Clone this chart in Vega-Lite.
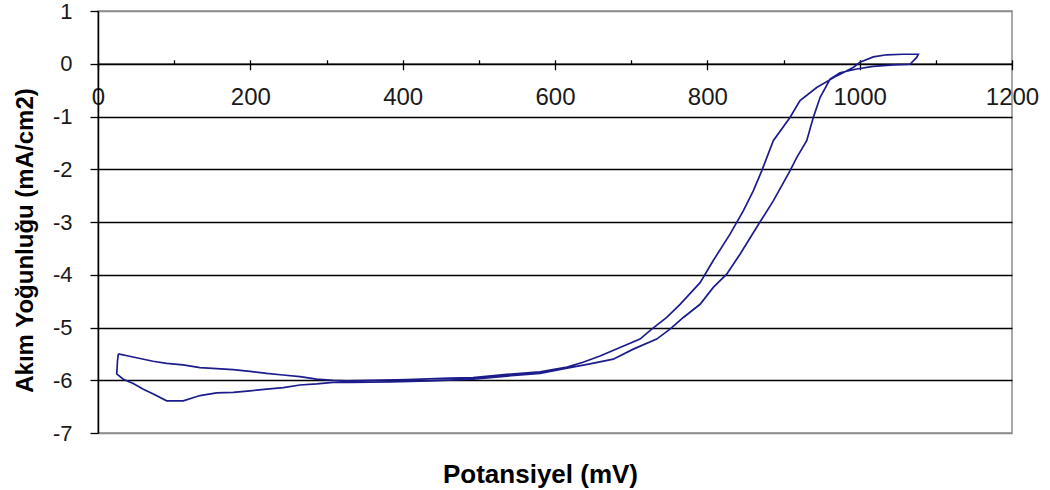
{
 "$schema": "https://vega.github.io/schema/vega-lite/v6.json",
 "width": 914, "height": 422,
 "autosize": "none",
 "padding": {"left": 98, "top": 11, "right": 38, "bottom": 57},
 "background": "white",
 "config": {"view": {"stroke": "#8c8c8c", "strokeWidth": 1.5}, "font": "Liberation Sans"},
 "data": {"values": [
  {"i":1,"mV":26.7,"j":-5.50},{"i":2,"mV":39.8,"j":-5.54},{"i":3,"mV":72.2,"j":-5.64},{"i":4,"mV":90.2,"j":-5.68},
  {"i":5,"mV":111.6,"j":-5.71},{"i":6,"mV":133.9,"j":-5.76},{"i":7,"mV":155.8,"j":-5.78},{"i":8,"mV":177.2,"j":-5.80},
  {"i":9,"mV":199.6,"j":-5.83},{"i":10,"mV":221.5,"j":-5.87},{"i":11,"mV":242.9,"j":-5.90},{"i":12,"mV":265.2,"j":-5.93},
  {"i":13,"mV":287.1,"j":-5.98},{"i":14,"mV":308.5,"j":-6.00},{"i":15,"mV":326.5,"j":-6.01},{"i":16,"mV":361.1,"j":-6.00},
  {"i":17,"mV":405.7,"j":-5.99},{"i":18,"mV":462.1,"j":-5.96},{"i":19,"mV":492.3,"j":-5.95},{"i":20,"mV":537.0,"j":-5.89},
  {"i":21,"mV":580.3,"j":-5.84},{"i":22,"mV":615.8,"j":-5.75},{"i":23,"mV":636.8,"j":-5.66},{"i":24,"mV":659.1,"j":-5.54},
  {"i":25,"mV":685.4,"j":-5.38},{"i":26,"mV":711.6,"j":-5.22},{"i":27,"mV":727.0,"j":-5.03},{"i":28,"mV":746.7,"j":-4.81},
  {"i":29,"mV":764.2,"j":-4.56},{"i":30,"mV":790.5,"j":-4.15},{"i":31,"mV":807.8,"j":-3.73},{"i":32,"mV":829.8,"j":-3.23},
  {"i":33,"mV":847.2,"j":-2.79},{"i":34,"mV":860.3,"j":-2.41},{"i":35,"mV":871.4,"j":-2.03},{"i":36,"mV":886.6,"j":-1.46},
  {"i":37,"mV":908.5,"j":-1.02},{"i":38,"mV":921.7,"j":-0.70},{"i":39,"mV":943.6,"j":-0.45},{"i":40,"mV":969.8,"j":-0.23},
  {"i":41,"mV":991.6,"j":-0.07},{"i":42,"mV":1000.4,"j":0.03},{"i":43,"mV":1017.9,"j":0.13},{"i":44,"mV":1035.5,"j":0.17},
  {"i":45,"mV":1057.3,"j":0.18},{"i":46,"mV":1077.0,"j":0.18},{"i":47,"mV":1074.9,"j":0.12},{"i":48,"mV":1066.1,"j":-0.01},
  {"i":49,"mV":1044.2,"j":-0.02},{"i":50,"mV":1017.9,"j":-0.05},{"i":51,"mV":996.1,"j":-0.10},{"i":52,"mV":974.2,"j":-0.17},
  {"i":53,"mV":961.1,"j":-0.29},{"i":54,"mV":948.0,"j":-0.64},{"i":55,"mV":939.1,"j":-1.02},{"i":56,"mV":930.5,"j":-1.46},
  {"i":57,"mV":917.3,"j":-1.78},{"i":58,"mV":908.5,"j":-2.03},{"i":59,"mV":886.6,"j":-2.60},{"i":60,"mV":864.8,"j":-3.10},
  {"i":61,"mV":842.9,"j":-3.61},{"i":62,"mV":825.4,"j":-3.99},{"i":63,"mV":807.8,"j":-4.24},{"i":64,"mV":790.5,"j":-4.56},
  {"i":65,"mV":768.5,"j":-4.81},{"i":66,"mV":751.0,"j":-5.03},{"i":67,"mV":733.5,"j":-5.22},{"i":68,"mV":702.8,"j":-5.41},
  {"i":69,"mV":676.5,"j":-5.60},{"i":70,"mV":645.9,"j":-5.69},{"i":71,"mV":615.8,"j":-5.77},{"i":72,"mV":580.3,"j":-5.87},
  {"i":73,"mV":537.0,"j":-5.92},{"i":74,"mV":492.3,"j":-5.98},{"i":75,"mV":435.9,"j":-6.01},{"i":76,"mV":383.4,"j":-6.03},
  {"i":77,"mV":330.9,"j":-6.04},{"i":78,"mV":308.9,"j":-6.04},{"i":79,"mV":287.1,"j":-6.07},{"i":80,"mV":265.2,"j":-6.09},
  {"i":81,"mV":243.3,"j":-6.14},{"i":82,"mV":221.5,"j":-6.17},{"i":83,"mV":199.6,"j":-6.20},{"i":84,"mV":177.6,"j":-6.23},
  {"i":85,"mV":155.8,"j":-6.24},{"i":86,"mV":133.9,"j":-6.29},{"i":87,"mV":112.0,"j":-6.39},{"i":88,"mV":90.2,"j":-6.39},
  {"i":89,"mV":72.6,"j":-6.26},{"i":90,"mV":59.5,"j":-6.17},{"i":91,"mV":46.3,"j":-6.06},{"i":92,"mV":33.2,"j":-5.98},
  {"i":93,"mV":24.6,"j":-5.88},{"i":94,"mV":25.6,"j":-5.63},{"i":95,"mV":26.7,"j":-5.50}
 ]},
 "layer": [
  {
   "mark": {"type": "line", "color": "#1c1c8c", "strokeWidth": 1.7, "interpolate": "linear"},
   "encoding": {
    "x": {"field": "mV", "type": "quantitative",
      "scale": {"domain": [0, 1200], "nice": false, "zero": false},
      "axis": {"orient": "bottom", "offset": -369.25, "values": [0,200,400,600,800,1000,1200],
        "labelExpr": "'' + datum.value",
        "grid": false, "domainColor": "black", "domainWidth": 1.5, "tickColor": "black", "tickSize": 6, "tickWidth": 1.3,
        "labelFont": "Liberation Sans", "labelFontSize": 24, "labelColor": "#1a1a1a", "labelPadding": 16,
        "labelFlush": false, "labelOverlap": false, "labelBound": false,
        "title": "Potansiyel (mV)", "titleFont": "Liberation Sans", "titleFontSize": 26, "titleFontWeight": "bold",
        "titleColor": "black", "titleX": 442, "titleY": 419, "titleBaseline": "alphabetic", "titleAlign": "center"}},
    "y": {"field": "j", "type": "quantitative",
      "scale": {"domain": [-7, 1], "nice": false, "zero": false},
      "axis": {"values": [-7,-6,-5,-4,-3,-2,-1,0,1], "grid": true,
        "labelExpr": "'' + datum.value",
        "gridColor": {"condition": {"test": "datum.value === 1 || datum.value === -7", "value": "#8c8c8c"}, "value": "black"},
        "gridWidth": 1.3, "domainColor": "black", "domainWidth": 1.5, "tickColor": "black", "tickSize": 8, "tickWidth": 1.3,
        "labelFont": "Liberation Sans", "labelFontSize": 22, "labelColor": "#1a1a1a", "labelPadding": 18,
        "labelFlush": false, "labelOverlap": false, "labelBound": false,
        "title": "Akım Yoğunluğu (mA/cm2)", "titleFont": "Liberation Sans", "titleFontSize": 24, "titleFontWeight": "bold",
        "titleColor": "black", "titleX": -66, "titleY": 229, "titleBaseline": "alphabetic", "titleAlign": "center", "titleAngle": 270}},
    "order": {"field": "i", "type": "quantitative"}
   }
  },
  {
   "mark": {"type": "point", "opacity": 0},
   "encoding": {
    "x": {"field": "mV", "type": "quantitative",
      "scale": {"domain": [0, 1200], "nice": false, "zero": false},
      "axis": {"orient": "top", "offset": -52.75, "values": [0,100,200,300,400,500,600,700,800,900,1000,1100,1200],
        "labels": false, "domain": false, "grid": false, "tickColor": "black", "tickSize": 4, "tickWidth": 1.3, "title": null}},
    "y": {"field": "j", "type": "quantitative", "scale": {"domain": [-7, 1], "nice": false, "zero": false}}
   }
  }
 ],
 "resolve": {"axis": {"x": "independent"}}
}
